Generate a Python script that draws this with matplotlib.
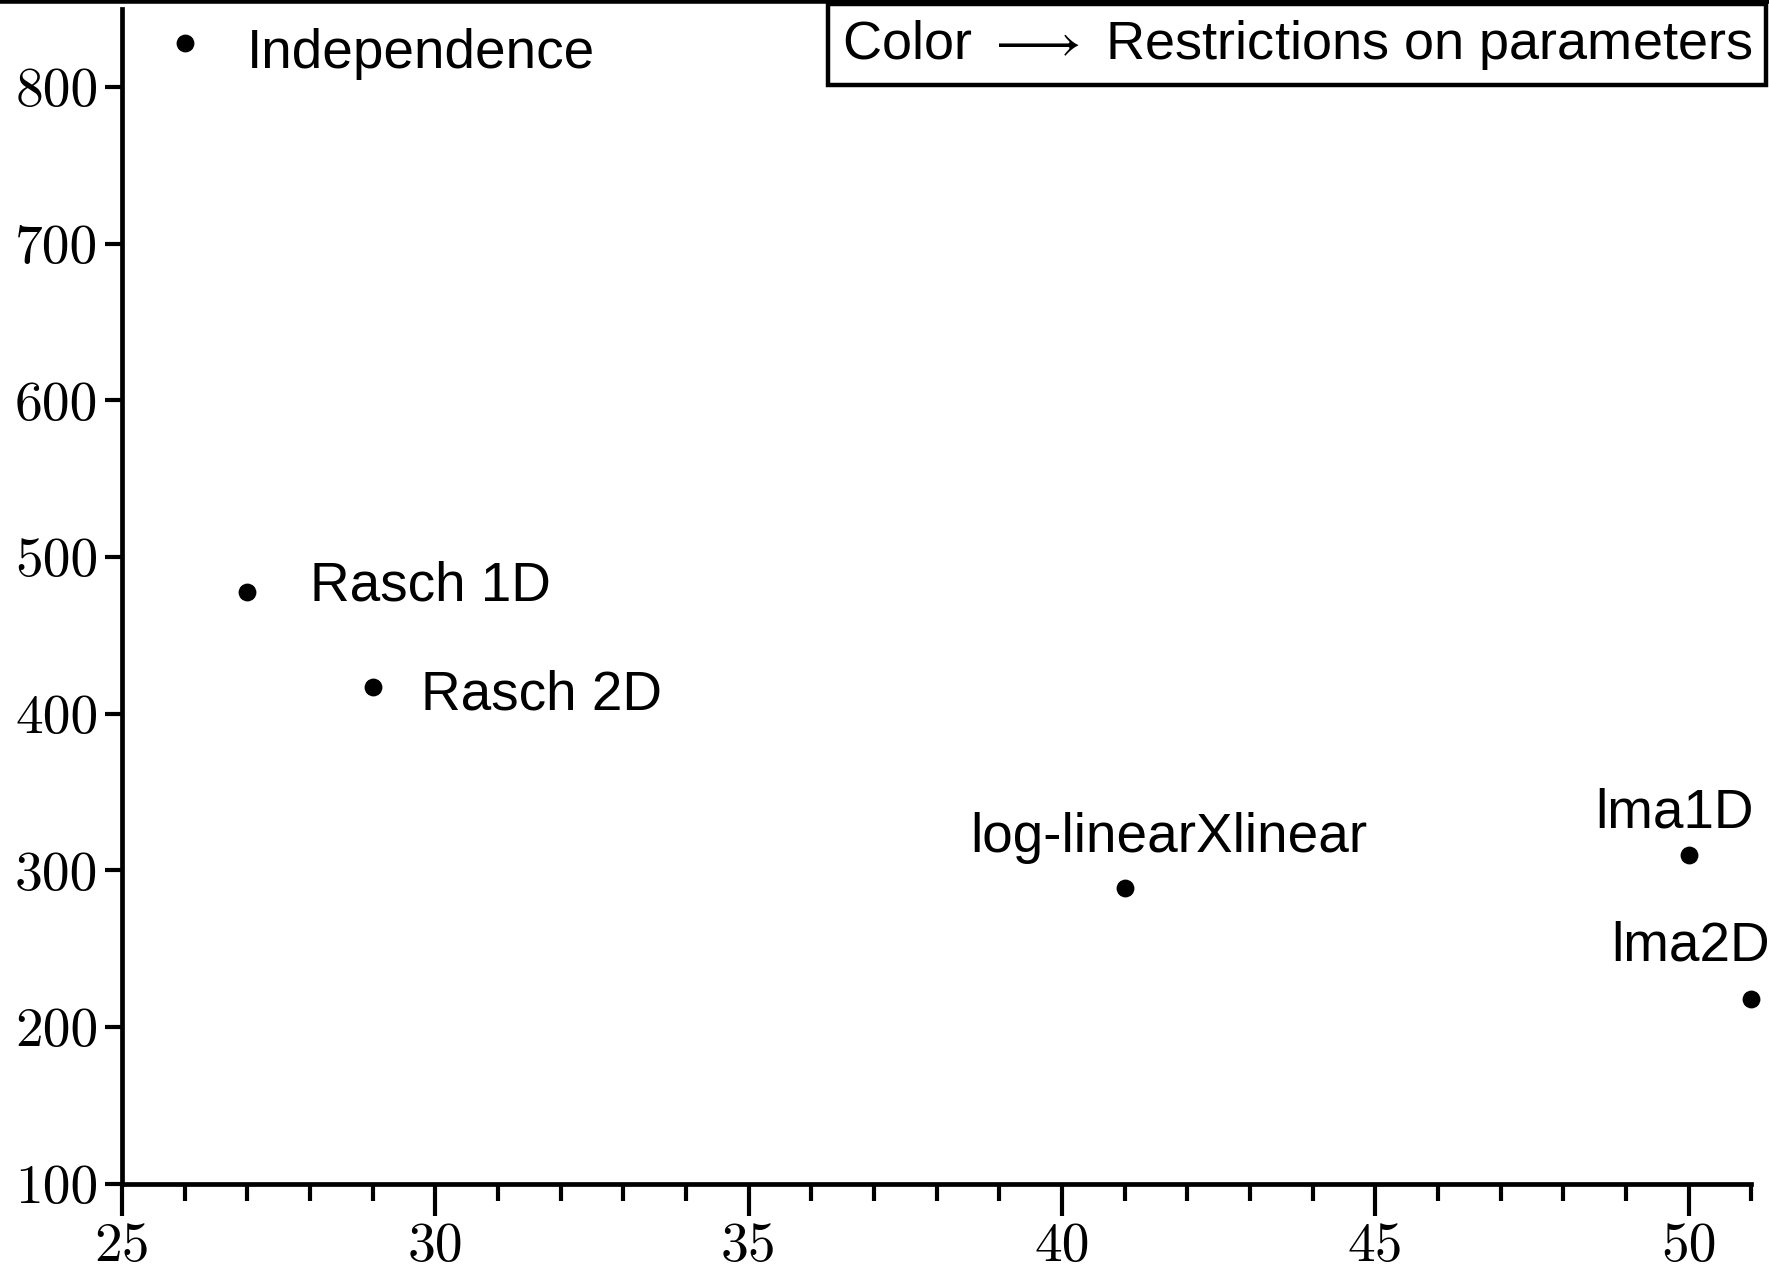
import matplotlib
matplotlib.use("Agg")
import matplotlib.pyplot as plt
from matplotlib.lines import Line2D
from matplotlib.ticker import MultipleLocator

plt.rcParams['font.family'] = ['Liberation Sans', 'DejaVu Sans']
plt.rcParams['mathtext.fontset'] = 'cm'

# models: number of parameters vs. fit statistic
models = ['Independence', 'Rasch 1D', 'Rasch 2D', 'log-linearXlinear', 'lma1D', 'lma2D']
n_params = [26, 27, 29, 41, 50, 51]
fit_stat = [828, 478, 417, 289, 310, 218]

# where each name sits relative to its dot (points), and its alignment
label_offsets = {
    'Independence': (45, -8, 'left'),
    'Rasch 1D': (45, 4, 'left'),
    'Rasch 2D': (35, -6, 'left'),
    'log-linearXlinear': (32, 36, 'center'),
    'lma1D': (-10, 30, 'center'),
    'lma2D': (-44, 38, 'center'),
}

fig = plt.figure(figsize=(17.69, 12.70), dpi=100)
ax = fig.add_axes([0.069, 0.068, 0.921, 0.925])

ax.scatter(n_params, fit_stat, s=140, color='black', zorder=3, clip_on=False)

for name, x, y in zip(models, n_params, fit_stat):
    dx, dy, ha = label_offsets[name]
    ax.annotate(name, (x, y), xytext=(dx, dy), textcoords='offset points',
                ha=ha, va='center', fontsize=39.5)

ax.set_xlim(25, 51)
ax.set_ylim(100, 850)
ax.xaxis.set_major_locator(MultipleLocator(5))
ax.xaxis.set_minor_locator(MultipleLocator(1))
ax.yaxis.set_major_locator(MultipleLocator(100))

for side in ['top', 'right']:
    ax.spines[side].set_visible(False)
for side in ['left', 'bottom']:
    ax.spines[side].set_linewidth(3.4)

ax.tick_params(axis='x', which='major', length=23, width=3, pad=5,
               labelsize=40, labelfontfamily='cmr10')
ax.tick_params(axis='x', which='minor', length=12, width=3)
ax.tick_params(axis='y', which='major', length=12, width=3, pad=5,
               labelsize=40, labelfontfamily='cmr10')

fig.text(0.9904, 0.9646, r'Color $\longrightarrow$ Restrictions on parameters',
         ha='right', va='center', fontsize=39,
         bbox=dict(boxstyle='square,pad=0.25', facecolor='white',
                   edgecolor='black', linewidth=3.2))

# rule along the top edge
fig.add_artist(Line2D([0, 1], [0.999, 0.999], transform=fig.transFigure,
                      color='black', linewidth=4))

fig.savefig('out.png', dpi=100)
